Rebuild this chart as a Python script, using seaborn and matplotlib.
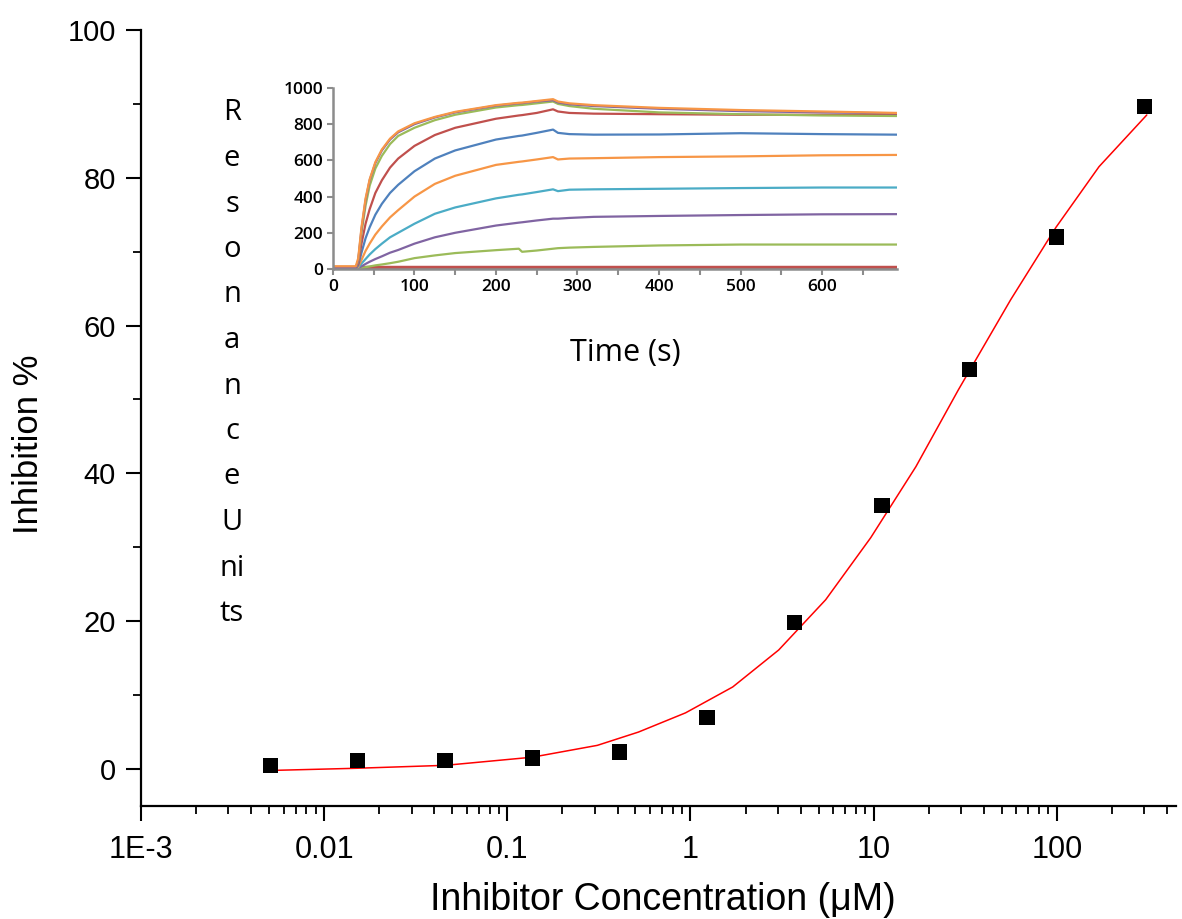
import numpy as np
import pandas as pd
import seaborn as sns
import matplotlib.pyplot as plt
from matplotlib.ticker import FixedLocator, LogLocator, NullFormatter, MultipleLocator

# dose-response data (uM, % inhibition)
conc = [0.00508, 0.0152, 0.0457, 0.137, 0.41, 1.23, 3.7, 11.1, 33.3, 100, 300]
inhib = [0.5, 1.1, 1.1, 1.5, 2.3, 7.0, 19.8, 35.7, 54.1, 72.0, 89.6]

# fitted curve
fit_conc = [0.005, 0.015, 0.046, 0.137, 0.31, 0.52, 0.94, 1.70, 3.03, 5.47, 9.64, 17, 29, 56, 99, 170, 310]
fit_inhib = [-0.2, 0.1, 0.5, 1.6, 3.2, 5.0, 7.6, 11.1, 16.1, 22.9, 31.3, 40.9, 51.3, 63.5, 73.3, 81.5, 88.5]

xtick_vals = [1e-3, 0.01, 0.1, 1, 10, 100]
xtick_labels = ["1E-3", "0.01", "0.1", "1", "10", "100"]

# inset sensorgrams (time in s, response units)
time_s = [0, 28, 31, 35, 40, 45, 52, 60, 70, 80, 100, 125, 150, 200, 228, 232, 250, 270, 276, 290, 320, 400, 500, 600, 692]
ru_base = [3, 3, 3, 3, 3, 3, 3, 3, 3, 3, 3, 3, 3, 3, 3, 3, 3, 3, 3, 3, 3, 3, 3, 3, 3]
ru_green_low = [5, 5, 3, 6, 10, 14, 20, 25, 32, 40, 60, 75, 88, 104, 112, 95, 102, 112, 115, 118, 122, 130, 135, 135, 135]
ru_purple_low = [5, 5, 5, 15, 28, 40, 55, 70, 90, 105, 140, 175, 200, 240, 256, 258, 268, 278, 278, 282, 288, 293, 298, 302, 303]
ru_teal = [5, 5, 8, 30, 55, 80, 110, 140, 175, 200, 250, 305, 340, 390, 410, 412, 425, 440, 430, 438, 440, 443, 447, 450, 450]
ru_orange_mid = [5, 5, 12, 50, 100, 140, 190, 235, 285, 325, 400, 470, 515, 575, 592, 594, 605, 618, 605, 610, 612, 618, 622, 628, 630]
ru_blue = [5, 5, 20, 90, 170, 230, 300, 360, 420, 465, 540, 610, 655, 715, 735, 737, 752, 770, 752, 745, 742, 743, 750, 745, 742]
ru_red = [5, 5, 30, 140, 250, 330, 420, 490, 560, 610, 680, 740, 780, 830, 848, 850, 862, 882, 870, 862, 858, 855, 852, 852, 850]
ru_green_top = [5, 5, 45, 200, 350, 460, 555, 625, 690, 735, 780, 822, 852, 892, 905, 906, 915, 925, 912, 900, 885, 865, 855, 848, 845]
ru_purple_top = [5, 5, 50, 220, 380, 490, 585, 655, 715, 755, 800, 837, 865, 902, 915, 916, 925, 932, 920, 910, 900, 885, 872, 865, 860]
ru_orange_top = [15, 15, 60, 230, 390, 495, 590, 660, 720, 760, 805, 840, 868, 905, 918, 919, 928, 938, 925, 915, 905, 890, 878, 870, 862]

curves = {
    "base": ru_base, "green_low": ru_green_low, "purple_low": ru_purple_low,
    "teal": ru_teal, "orange_mid": ru_orange_mid, "blue": ru_blue, "red": ru_red,
    "green_top": ru_green_top, "purple_top": ru_purple_top, "orange_top": ru_orange_top,
}
colors = {
    "base": "#C0504D", "green_low": "#9BBB59", "purple_low": "#8064A2",
    "teal": "#4BACC6", "orange_mid": "#F79646", "blue": "#4F81BD", "red": "#C0504D",
    "green_top": "#9BBB59", "purple_top": "#8064A2", "orange_top": "#F79646",
}

sns.set_style("ticks", {"text.color": "black", "axes.labelcolor": "black",
                        "xtick.color": "black", "ytick.color": "black"})

fig = plt.figure(figsize=(11.82, 9.19), dpi=100)
ax = fig.add_axes([0.1193, 0.1230, 0.876, 0.8444])

fit_df = pd.DataFrame({"conc": fit_conc, "inhib": fit_inhib})
pts_df = pd.DataFrame({"conc": conc, "inhib": inhib})
sns.lineplot(data=fit_df, x="conc", y="inhib", color="red", lw=1.1, sort=False,
             estimator=None, ax=ax)
sns.scatterplot(data=pts_df, x="conc", y="inhib", marker="s", s=120, color="black",
                edgecolor="none", ax=ax, zorder=3)

ax.set_xscale("log")
ax.set_xlim(1e-3, 450)
ax.set_ylim(-5, 100)
ax.xaxis.set_major_locator(FixedLocator(xtick_vals))
ax.set_xticklabels(xtick_labels)
ax.xaxis.set_minor_locator(LogLocator(base=10, subs=np.arange(2, 10)))
ax.xaxis.set_minor_formatter(NullFormatter())
ax.yaxis.set_major_locator(MultipleLocator(20))
ax.yaxis.set_minor_locator(MultipleLocator(10))
ax.set_xlabel("")
ax.set_ylabel("")
sns.despine(ax=ax)
for s in ["left", "bottom"]:
    ax.spines[s].set_linewidth(1.6)
    ax.spines[s].set_color("black")
ax.tick_params(which="major", length=11, width=1.5, color="black", labelcolor="black")
ax.tick_params(which="minor", length=6, width=1.3, color="black")
ax.tick_params(axis="x", which="major", pad=10)
ax.tick_params(axis="y", which="major", pad=7)
for lab in ax.get_xticklabels():
    lab.set_family(["Liberation Sans Narrow", "Liberation Sans"])
    lab.set_fontsize(22)
for lab in ax.get_yticklabels():
    lab.set_family("Liberation Sans")
    lab.set_fontsize(21)

fig.text(663 / 1182, 1 - 900 / 919, "Inhibitor Concentration (μM)", ha="center", va="center",
         fontsize=27, color="black", family=["Liberation Sans Narrow", "Liberation Sans"])
fig.text(29 / 1182, 1 - 444 / 919, "Inhibition %", ha="center", va="center", rotation=90,
         fontsize=25, color="black", family=["Liberation Sans Narrow", "Liberation Sans"])

# inset
ins = fig.add_axes([0.2817, 0.7073, 0.4772, 0.197])
rows = []
for name, vals in curves.items():
    for t, v in zip(time_s, vals):
        rows.append({"t": t, "ru": v, "curve": name})
ins_df = pd.DataFrame(rows)
for name in curves:
    lw = 3.2 if name == "base" else 1.6
    sns.lineplot(data=ins_df[ins_df["curve"] == name], x="t", y="ru", color=colors[name],
                 lw=lw, sort=False, estimator=None, ax=ins)
ins.set_xlim(0, 692)
ins.set_ylim(0, 1000)
ins.xaxis.set_major_locator(MultipleLocator(100))
ins.xaxis.set_minor_locator(MultipleLocator(50))
ins.yaxis.set_major_locator(MultipleLocator(200))
ins.set_xticks([0, 100, 200, 300, 400, 500, 600])
ins.set_xlabel("")
ins.set_ylabel("")
ins.patch.set_alpha(0)
sns.despine(ax=ins)
for s in ["left", "bottom"]:
    ins.spines[s].set_color("#8c8c8c")
    ins.spines[s].set_linewidth(1.8)
ins.tick_params(which="both", length=4, width=1.5, color="#8c8c8c", pad=3, labelcolor="black")
for lab in ins.get_xticklabels() + ins.get_yticklabels():
    lab.set_family("Open Sans")
    lab.set_fontsize(12.5)
    lab.set_fontweight("semibold")

fig.text(625 / 1182, 1 - 353 / 919, "Time (s)", ha="center", va="center",
         fontsize=22, color="black", family="Open Sans")

letters = ["R", "e", "s", "o", "n", "a", "n", "c", "e", "U", "ni", "ts"]
for i, ch in enumerate(letters):
    y = 113 + i * 45.5
    fig.text(232 / 1182, 1 - y / 919, ch, ha="center", va="center", fontsize=21,
             color="black", family="Open Sans")

fig.savefig("out.png", dpi=100)
